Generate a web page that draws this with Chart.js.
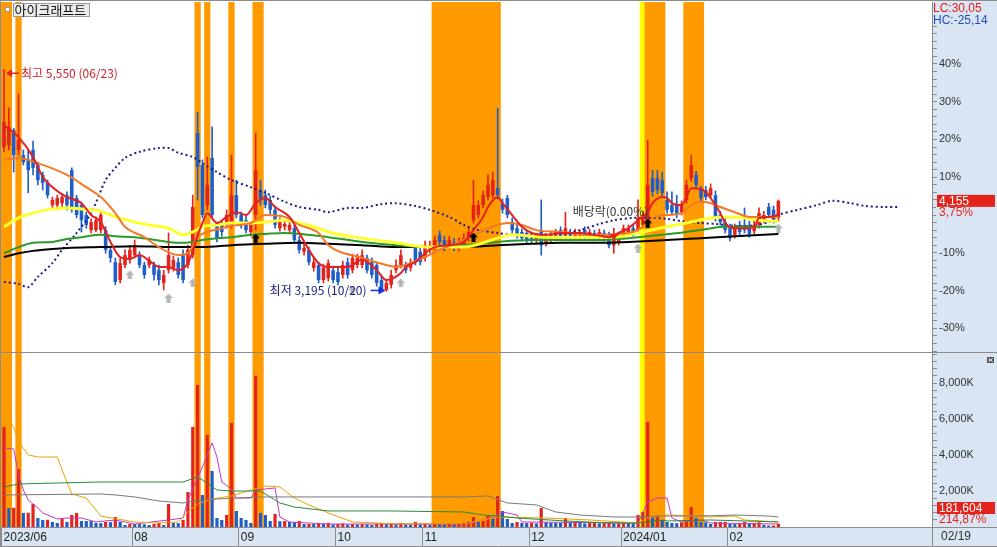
<!DOCTYPE html>
<html>
<head>
<meta charset="utf-8">
<script src="https://cdn.jsdelivr.net/npm/chart.js@4/dist/chart.umd.min.js"></script>
<style>
    html, body { margin: 0; padding: 0; background: #fff; }
    #wrap { position: relative; width: 997px; height: 547px; overflow: hidden; }
    canvas { position: absolute; left: 0; }
    #price { top: 0; }
    #vol { top: 352px; }
</style>
</head>
<body>
<div id="wrap">
    <canvas id="price" width="997" height="352"></canvas>
    <canvas id="vol" width="997" height="195"></canvas>
</div>
<script>
// ---- data (daily, 2023/06/23 .. 2024/02/19) ----
const opens = [
    4725, 4745, 4905, 4695, 4640, 4590, 4695, 4535, 4430, 4345,
    4110, 4110, 4130, 4215, 4480, 4185, 4110, 4005, 3845, 3845,
    3845, 3845, 3635, 3505, 3315, 3475, 3530, 3580, 3580, 3475,
    3475, 3475, 3420, 3285, 3420, 3445, 3505, 3580, 3475, 3580,
    4875, 4535, 4110, 4610, 3900, 3900, 3900, 3900, 4215, 4005,
    3950, 3825, 4005, 4270, 4215, 4165, 4060, 3865, 3880, 3845,
    3865, 3740, 3615, 3635, 3445, 3475, 3315, 3335, 3420, 3400,
    3370, 3505, 3420, 3475, 3475, 3550, 3505, 3475, 3315, 3210,
    3265, 3420, 3475, 3475, 3445, 3655, 3615, 3550, 3635, 3665,
    3795, 3740, 3675, 3720, 3655, 3685, 3760, 3950, 4005, 4110,
    4195, 4215, 4290, 4130, 4185, 3930, 3865, 3825, 3815, 3795,
    3740, 3845, 3710, 3740, 3760, 3845, 3780, 3825, 3780, 3780,
    3845, 3780, 3815, 3780, 3815, 3795, 3685, 3720, 3780, 3825,
    3865, 3845, 3900, 3950, 4395, 4395, 4375, 4165, 4110, 4110,
    4035, 4165, 4395, 4430, 4270, 4270, 4215, 4215, 4005, 3930,
    3865, 3795, 3900, 3900, 3900, 3835, 3900, 3950, 4090, 4060,
    3975
];
const highs = [
    5550, 5140, 4925, 5290, 4695, 4695, 4790, 4565, 4460, 4375,
    4195, 4215, 4215, 4250, 4505, 4215, 4145, 4035, 3965, 3985,
    4035, 3880, 3665, 3550, 3550, 3635, 3685, 3740, 3615, 3505,
    3560, 3505, 3475, 3420, 3815, 3570, 3550, 3635, 3685, 4215,
    5095, 4590, 4620, 4940, 3930, 3950, 4060, 4640, 4375, 4035,
    3995, 3930, 4875, 4375, 4270, 4205, 4100, 3975, 3950, 3940,
    3900, 3780, 3700, 3665, 3550, 3505, 3485, 3530, 3465, 3445,
    3515, 3550, 3590, 3590, 3635, 3580, 3550, 3505, 3370, 3325,
    3420, 3530, 3635, 3505, 3540, 3685, 3655, 3730, 3730, 3780,
    3835, 3780, 3780, 3760, 3760, 3805, 3865, 4375, 4155, 4260,
    4430, 4460, 5140, 4175, 4215, 3975, 3900, 3855, 3845, 3825,
    3805, 4165, 3805, 3825, 3855, 3880, 4035, 3855, 3855, 3845,
    3880, 3855, 3845, 3855, 3845, 3825, 3865, 3825, 3900, 3900,
    3900, 4165, 4035, 4800, 4480, 4480, 4460, 4250, 4250, 4215,
    4155, 4375, 4640, 4470, 4310, 4310, 4335, 4260, 4045, 3975,
    3910, 3910, 3940, 4080, 3940, 3940, 4080, 4045, 4130, 4100,
    4165
];
const lows = [
    4675, 4695, 4460, 4640, 4535, 4240, 4430, 4325, 4270, 4185,
    4080, 4060, 4090, 4060, 4035, 3975, 3825, 3865, 3815, 3825,
    3815, 3600, 3505, 3265, 3285, 3445, 3495, 3550, 3445, 3335,
    3445, 3315, 3265, 3210, 3390, 3410, 3335, 3285, 3445, 3550,
    4165, 3975, 4060, 3975, 3720, 3780, 3865, 3865, 3975, 3865,
    3815, 3780, 3845, 4110, 4080, 4015, 3865, 3835, 3845, 3815,
    3710, 3600, 3580, 3475, 3410, 3285, 3285, 3305, 3285, 3265,
    3335, 3335, 3390, 3445, 3445, 3390, 3335, 3250, 3195, 3195,
    3230, 3390, 3445, 3390, 3410, 3475, 3475, 3515, 3600, 3635,
    3685, 3625, 3645, 3625, 3625, 3655, 3730, 3920, 3975, 4080,
    4165, 4185, 4175, 4025, 3975, 3815, 3760, 3730, 3710, 3710,
    3710, 3580, 3675, 3710, 3730, 3750, 3750, 3730, 3750, 3750,
    3740, 3750, 3730, 3750, 3730, 3655, 3600, 3685, 3750, 3795,
    3780, 3815, 3865, 3920, 4205, 4230, 4195, 4025, 4005, 3975,
    4005, 4130, 4365, 4290, 4155, 4165, 4185, 3940, 3900, 3815,
    3730, 3760, 3795, 3815, 3770, 3805, 3865, 3920, 3975, 3920,
    3940
];
const closes = [
    4990, 4940, 4640, 4800, 4565, 4480, 4505, 4375, 4345, 4215,
    4165, 4185, 4195, 4110, 4060, 4005, 3950, 3900, 3930, 3950,
    4005, 3635, 3550, 3295, 3495, 3580, 3635, 3685, 3475, 3370,
    3530, 3370, 3315, 3370, 3580, 3530, 3370, 3315, 3635, 4090,
    4515, 4005, 4325, 4005, 3760, 3825, 4005, 4215, 4005, 3900,
    3845, 3900, 4480, 4165, 4110, 4060, 3900, 3930, 3910, 3900,
    3740, 3635, 3655, 3505, 3505, 3315, 3445, 3495, 3315, 3295,
    3475, 3370, 3550, 3550, 3580, 3420, 3370, 3285, 3210, 3285,
    3370, 3475, 3580, 3420, 3505, 3505, 3505, 3685, 3685, 3740,
    3720, 3655, 3740, 3655, 3720, 3760, 3825, 4110, 4110, 4215,
    4325, 4375, 4215, 4060, 4005, 3845, 3795, 3760, 3740, 3740,
    3770, 3685, 3770, 3795, 3825, 3780, 3865, 3760, 3825, 3815,
    3770, 3825, 3760, 3825, 3760, 3685, 3760, 3795, 3865, 3865,
    3815, 3975, 3975, 4325, 4250, 4270, 4240, 4060, 4035, 4005,
    4110, 4325, 4535, 4325, 4185, 4195, 4290, 3975, 3930, 3845,
    3760, 3865, 3825, 3845, 3805, 3900, 4025, 4005, 4005, 3950,
    4155
];
// volume in thousands of shares
const volumes = [
    5560, 1056, 1070, 3225, 780, 790, 1280, 500, 390, 400,
    280, 222, 445, 280, 667, 780, 334, 330, 325, 222,
    215, 278, 270, 556, 278, 111, 167, 160, 155, 150,
    111, 167, 222, 111, 1280, 222, 215, 390, 1946, 5560,
    7895, 1779, 5115, 3114, 500, 390, 667, 5780, 890, 500,
    390, 222, 8396, 780, 667, 334, 723, 320, 334, 278,
    270, 334, 167, 170, 165, 222, 167, 222, 150, 170,
    200, 130, 160, 140, 165, 150, 120, 180, 200, 150,
    170, 150, 222, 150, 130, 278, 150, 170, 130, 160,
    140, 130, 170, 150, 200, 250, 300, 556, 295, 334,
    612, 500, 1724, 890, 445, 222, 278, 230, 220, 240,
    200, 1056, 278, 240, 230, 220, 500, 250, 260, 230,
    200, 220, 225, 200, 210, 230, 200, 210, 230, 210,
    200, 667, 834, 5840, 600, 640, 390, 278, 222, 210,
    260, 280, 1112, 500, 278, 260, 167, 278, 285, 290,
    167, 160, 222, 278, 222, 230, 260, 120, 80, 84.5,
    181.604
];

// moving averages, read as [day index, price]
const ma5 = [[0,4960],[3,4830],[6,4620],[8,4410],[10,4300],[13,4195],[16,4130],[18,4005],[20,3930],[22,3720],[24,3560],[26,3540],[28,3580],[30,3520],[32,3455],[34,3455],[36,3420],[38,3495],[39,3620],[40,3790],[41,3920],[42,4025],[44,3920],[46,3985],[48,4035],[50,4005],[52,4130],[54,4185],[56,4090],[59,3985],[61,3815],[63,3635],[65,3495],[67,3455],[71,3455],[74,3530],[77,3420],[79,3315],[82,3390],[83,3455],[85,3505],[87,3600],[89,3665],[92,3685],[95,3720],[97,3845],[99,3985],[100,4090],[102,4195],[103,4130],[105,4005],[107,3880],[109,3815],[112,3795],[115,3815],[119,3815],[122,3795],[125,3770],[127,3815],[129,3865],[131,3950],[133,4035],[134,4130],[136,4195],[137,4185],[138,4130],[140,4110],[141,4195],[142,4290],[144,4280],[145,4250],[146,4185],[148,4025],[149,3920],[151,3865],[153,3865],[155,3880],[156,3975],[158,3985],[160,4005]];
const ma20 = [[0,4590],[3,4610],[7,4555],[13,4430],[17,4300],[20,4195],[23,4025],[25,3880],[29,3770],[32,3665],[36,3580],[38,3600],[40,3770],[42,3825],[45,3865],[47,3890],[51,3920],[54,4005],[58,3985],[61,3900],[65,3815],[67,3685],[74,3550],[79,3475],[81,3455],[84,3495],[87,3560],[90,3635],[95,3740],[98,3815],[102,3900],[104,3920],[107,3900],[110,3845],[115,3825],[122,3795],[129,3815],[132,3880],[134,3975],[137,4005],[140,4025],[142,4110],[144,4145],[146,4130],[148,4090],[151,4035],[154,3985],[156,3985],[160,3985]];
const ma60 = [[0,3880],[3,3975],[6,4025],[10,4070],[13,4080],[16,4070],[20,4045],[23,3985],[27,3930],[30,3900],[34,3865],[37,3795],[39,3825],[41,3880],[44,3900],[47,3920],[51,3920],[54,3930],[58,3950],[61,3920],[65,3865],[67,3825],[74,3760],[81,3710],[88,3665],[95,3665],[102,3760],[105,3795],[112,3770],[119,3770],[126,3770],[131,3815],[137,3880],[141,3920],[145,3965],[149,3985],[153,3975],[156,3950],[160,3940]];
const ma120 = [[0,3600],[3,3665],[6,3710],[10,3720],[13,3750],[16,3770],[20,3795],[23,3780],[27,3770],[30,3750],[34,3720],[37,3710],[41,3740],[44,3760],[47,3770],[51,3795],[54,3805],[58,3815],[67,3770],[74,3720],[81,3685],[88,3665],[95,3685],[102,3720],[109,3740],[115,3740],[123,3740],[129,3760],[136,3795],[141,3825],[145,3855],[149,3880],[160,3880]];
const ma240 = [[0,3560],[3,3600],[6,3625],[10,3645],[13,3655],[20,3665],[27,3675],[34,3665],[41,3665],[47,3685],[54,3700],[61,3710],[67,3700],[74,3685],[81,3665],[88,3665],[95,3665],[102,3685],[109,3700],[115,3710],[123,3710],[129,3720],[137,3740],[144,3760],[151,3780],[160,3805]];
const leadSpan = [[0,3295],[3,3275],[5,3240],[7,3350],[10,3495],[12,3635],[15,3815],[18,4025],[21,4375],[23,4505],[25,4610],[28,4675],[32,4715],[34,4715],[36,4665],[39,4620],[41,4555],[44,4460],[47,4375],[51,4300],[54,4240],[58,4145],[61,4090],[65,4060],[67,4035],[71,4080],[74,4080],[78,4120],[81,4130],[85,4100],[88,4060],[92,3985],[95,3900],[98,3845],[102,3815],[105,3795],[109,3795],[115,3805],[119,3845],[123,3910],[126,3950],[130,3975],[133,3975],[137,3965],[140,3940],[144,3920],[147,3910],[151,3890],[154,3890],[158,3930],[160,4005],[164,4060],[168,4110],[171,4155],[175,4130],[178,4100],[182,4090],[185,4090]];

// volume averages, [day index, thousands]
const vma1 = [[1,5950],[2,5560],[3,4725],[5,4005],[7,3890],[11,3890],[12,3170],[14,1835],[17,1610],[20,610],[27,280],[32,220],[36,280],[38,835],[40,1280],[43,1555],[47,1725],[51,2055],[54,2280],[57,2225],[60,1610],[63,1225],[67,780],[72,280],[82,165],[96,220],[102,555],[112,500],[121,390],[131,220],[133,500],[137,665],[144,610],[146,555],[151,610],[153,390],[160,280]];
const vma2 = [[0,4390],[2,4335],[3,2890],[4,2055],[5,1500],[7,1055],[8,780],[11,445],[13,500],[16,500],[19,280],[23,390],[27,165],[34,390],[37,500],[38,1500],[41,3335],[42,4005],[43,4670],[44,3890],[45,2500],[47,2110],[48,1610],[51,1610],[52,2055],[56,2170],[57,555],[59,280],[67,165],[96,165],[101,555],[103,835],[106,665],[107,280],[131,220],[133,1390],[135,1610],[137,1610],[138,500],[140,280],[144,390],[146,220],[160,165]];
const vma3 = [[0,2225],[3,2390],[11,2445],[20,2500],[27,2500],[37,2500],[40,2780],[41,2615],[44,2055],[47,2000],[53,2000],[57,1335],[60,1110],[67,890],[80,890],[95,835],[99,665],[102,610],[106,500],[116,335],[125,220],[131,220],[136,390],[137,335],[146,390],[160,280]];
const vma4 = [[0,1780],[20,1835],[23,1780],[27,1670],[32,1445],[37,1335],[41,1500],[44,1555],[53,1670],[67,1670],[95,1670],[100,1725],[104,1335],[110,1225],[114,835],[119,665],[126,555],[131,555],[136,610],[144,610],[151,665],[158,610],[160,555]];

// highlighted day ranges
const bands = [[0,1],[3,3],[40,40],[42,42],[47,47],[52,53],[89,102],[133,136],[141,144]];
const yellowBands = [[132,132]];

// signals [day index, price]
const grayUp = [[26,3370],[34,3125],[39,3285],[72,3210],[82,3285],[131,3655],[160,3865]];
const blackUp = [[52,3760],[97,3770],[133,3920]];
const redDown = [[126,3770]];

const monthStarts = [0, 27, 49, 69, 87, 109, 128, 150];
const monthLabels = ['2023/06', '08', '09', '10', '11', '12', '2024/01', '02'];
const pctLabels = [-30, -20, -10, 10, 20, 30, 40];
const volLabels = [2000, 4000, 6000, 8000];

const stockName = '아이크래프트';
const basePrice = 4005;
const highNote = { i: 0, price: 5550, text: '최고 5,550 (06/23)' };
const lowNote = { i: 78, price: 3195, text: '최저 3,195 (10/20)' };
const divNote = { i: 125.3, price: 4040, text: '배당락(0.00%)' };
const lcValue = '30,05', hcValue = '-25,14';
const volChange = '214,87';
const lastDate = '02/19';

// ---- view ----
const X_MIN = -0.62, X_MAX = 191.74;
const priceMin = 2553, priceMax = 6263;
const volMax = 9667;

const RED = '#e5231d', BLUE = '#1f5ec8', BAND = '#ff9a00', BAND_Y = '#ffff00';
const AXIS_BG = '#d9e5f2', EDGE = '#8c8c8c';
const NUM_FONT = "'Liberation Sans'";
const KR_FONT = "'Noto Sans CJK KR'";

Chart.defaults.font.family = NUM_FONT;

const pts = (arr) => arr.map(([x, y]) => ({ x, y }));
const days = opens.map((_, i) => i);
const bandData = (list, lo, hi) => {
    const out = [];
    list.forEach(([s, e]) => { for (let i = s; i <= e; i++) out.push({ x: i, y: [lo, hi] }); });
    return out;
};
const candleColor = (i) => closes[i] >= opens[i] ? RED : BLUE;
const volColor = (i) => (i === 0 || volumes[i] >= volumes[i - 1]) ? RED : BLUE;

const arrowImg = (color, dir) => {
    const c = document.createElement('canvas');
    c.width = 9; c.height = 9;
    const g = c.getContext('2d');
    g.fillStyle = color;
    g.beginPath();
    if (dir === 'up') {
        g.moveTo(4.5, 0); g.lineTo(9, 4.5); g.lineTo(6.5, 4.5); g.lineTo(6.5, 9);
        g.lineTo(2.5, 9); g.lineTo(2.5, 4.5); g.lineTo(0, 4.5);
    } else {
        g.moveTo(0, 1); g.lineTo(9, 1); g.lineTo(4.5, 8);
    }
    g.closePath();
    g.fill();
    return c;
};

// slight overlap so neighbouring band slots merge without seams
const bandSet = (list, color, lo, hi) => ({
    type: 'bar', data: bandData(list, lo, hi), backgroundColor: color,
    barPercentage: 1.3, categoryPercentage: 1, grouped: false, borderWidth: 0, order: 100
});
const maLine = (arr, color, width, order) => ({
    type: 'line', data: pts(arr), borderColor: color, borderWidth: width,
    pointRadius: 0, cubicInterpolationMode: 'monotone', order
});
const volLine = (arr, color) => ({
    type: 'line', data: pts(arr), borderColor: color, borderWidth: 1,
    pointRadius: 0, tension: 0, order: 10
});
const marks = (arr, img) => ({
    type: 'line', data: pts(arr), showLine: false, pointStyle: img,
    pointRadius: 5, pointHoverRadius: 0, pointBorderWidth: 0, order: 1
});

const panelBg = {
    id: 'panelBg',
    beforeDraw(chart, args, opts) {
        const { ctx, chartArea: a, width, height } = chart;
        ctx.save();
        ctx.fillStyle = '#fff';
        ctx.fillRect(0, 0, width, height);
        ctx.fillStyle = AXIS_BG;
        ctx.fillRect(a.right, 0, width - a.right, height);
        if (opts.strip) ctx.fillRect(0, a.bottom, width, height - a.bottom);
        ctx.restore();
    }
};

const hline = (ctx, x1, x2, y) => { ctx.beginPath(); ctx.moveTo(x1, y); ctx.lineTo(x2, y); ctx.stroke(); };
const vline = (ctx, x, y1, y2) => { ctx.beginPath(); ctx.moveTo(x, y1); ctx.lineTo(x, y2); ctx.stroke(); };

const priceDecor = {
    id: 'priceDecor',
    afterDraw(chart) {
        const { ctx, chartArea: a, width, height, scales: { x, y } } = chart;
        ctx.save();
        ctx.strokeStyle = EDGE;
        ctx.lineWidth = 1;
        hline(ctx, 0, width, 0.5);
        vline(ctx, 0.5, 0, height);

        // name box
        ctx.fillStyle = '#fff';
        ctx.fillRect(5, 7, 5, 5);
        ctx.strokeStyle = '#9a9a9a';
        ctx.strokeRect(5.5, 7.5, 4, 4);
        ctx.fillStyle = '#ececec';
        ctx.fillRect(13, 3, 77, 14);
        ctx.strokeRect(13.5, 3.5, 76, 13);
        ctx.fillStyle = '#111';
        ctx.font = `13px ${KR_FONT}`;
        ctx.textBaseline = 'middle';
        ctx.textAlign = 'left';
        ctx.fillText(stockName, 14.5, 10.5);

        // high note with left arrow
        ctx.font = `12px ${KR_FONT}`;
        let px = x.getPixelForValue(highNote.i), py = y.getPixelForValue(highNote.price) + 4;
        ctx.fillStyle = RED; ctx.strokeStyle = RED; ctx.lineWidth = 1.5;
        hline(ctx, px + 6, px + 15, py);
        ctx.beginPath(); ctx.moveTo(px + 2, py); ctx.lineTo(px + 8, py - 4); ctx.lineTo(px + 8, py + 4); ctx.closePath(); ctx.fill();
        ctx.fillStyle = '#d0202a';
        ctx.fillText(highNote.text, px + 17, py);

        // low note with right arrow
        px = x.getPixelForValue(lowNote.i); py = y.getPixelForValue(lowNote.price) - 1;
        ctx.fillStyle = '#1c1c80';
        ctx.textAlign = 'right';
        ctx.fillText(lowNote.text, px - 15, py);
        ctx.strokeStyle = '#1030e0'; ctx.fillStyle = '#1030e0';
        hline(ctx, px - 11, px - 2, py);
        ctx.beginPath(); ctx.moveTo(px + 4, py); ctx.lineTo(px - 3, py - 4); ctx.lineTo(px - 3, py + 4); ctx.closePath(); ctx.fill();

        // ex-dividend note
        ctx.textAlign = 'center';
        ctx.fillStyle = '#333';
        ctx.fillText(divNote.text, x.getPixelForValue(divNote.i), y.getPixelForValue(divNote.price));

        // right axis texts
        ctx.textAlign = 'left';
        ctx.font = `12px ${NUM_FONT}`;
        ctx.fillStyle = AXIS_BG;
        ctx.fillRect(a.right + 1, 1, width - a.right - 1, 25);
        ctx.fillStyle = '#e0201c';
        ctx.fillText('LC:' + lcValue, a.right + 1, 8.5);
        ctx.fillStyle = '#2050c0';
        ctx.fillText('HC:' + hcValue, a.right + 1, 20.5);

        const last = closes[closes.length - 1];
        const ty = y.getPixelForValue(last);
        ctx.fillStyle = AXIS_BG;
        ctx.fillRect(a.right + 4, ty + 6, width - a.right - 4, 13);
        ctx.fillStyle = RED;
        ctx.fillRect(a.right + 5, ty - 6, width - a.right - 7, 12);
        ctx.fillStyle = '#fff';
        ctx.fillText(last.toLocaleString('en-US'), a.right + 7, ty + 0.5);
        ctx.fillStyle = RED;
        const pct = ((last / basePrice - 1) * 100).toFixed(2).replace('.', ',');
        ctx.fillText(pct + '%', a.right + 7, ty + 12);
        ctx.restore();
    }
};

const volDecor = {
    id: 'volDecor',
    afterDraw(chart) {
        const { ctx, chartArea: a, width, height, scales: { y } } = chart;
        ctx.save();
        ctx.strokeStyle = EDGE;
        ctx.lineWidth = 1;
        hline(ctx, 0, width, 0.5);
        vline(ctx, 0.5, 0, height);
        hline(ctx, 0, width, a.bottom + 0.5);
        vline(ctx, a.right + 0.5, a.bottom, height);
        hline(ctx, 0, width, height - 0.5);

        // close icon
        ctx.fillStyle = '#555';
        ctx.fillRect(width - 10, 5, 7, 6);
        ctx.strokeStyle = '#fff';
        ctx.beginPath(); ctx.moveTo(width - 8.5, 6.5); ctx.lineTo(width - 4.5, 9.5); ctx.moveTo(width - 4.5, 6.5); ctx.lineTo(width - 8.5, 9.5); ctx.stroke();

        const lastVol = volumes[volumes.length - 1];
        const ty = Math.min(y.getPixelForValue(lastVol), a.bottom - 19);
        ctx.font = `12px ${NUM_FONT}`;
        ctx.textBaseline = 'middle';
        ctx.textAlign = 'left';
        ctx.fillStyle = RED;
        ctx.fillRect(a.right + 5, ty - 6, width - a.right - 7, 12);
        ctx.fillStyle = '#fff';
        ctx.fillText(Math.round(lastVol * 1000).toLocaleString('en-US'), a.right + 7, ty + 0.5);
        ctx.fillStyle = RED;
        ctx.fillText(volChange + '%', a.right + 7, ty + 12);

        ctx.fillStyle = '#333';
        ctx.fillText(lastDate, a.right + 9, a.bottom + 10);
        ctx.restore();
    }
};

const common = {
    responsive: false,
    animation: false,
    devicePixelRatio: 1,
    events: []
};

const pctTicks = [];
for (let p = -36; p <= 56; p += 2) pctTicks.push(p);

new Chart(document.getElementById('price'), {
    type: 'bar',
    data: {
        datasets: [
            bandSet(bands, BAND, priceMin, priceMax),
            bandSet(yellowBands, BAND_Y, priceMin, priceMax),
            {
                type: 'bar', data: days.map(i => ({ x: i, y: [lows[i], highs[i]] })),
                backgroundColor: (c) => candleColor(c.dataIndex), barThickness: 1,
                grouped: false, borderWidth: 0, order: 50
            },
            {
                type: 'bar', data: days.map(i => ({ x: i, y: [opens[i], closes[i]] })),
                backgroundColor: (c) => candleColor(c.dataIndex), barPercentage: 0.74,
                categoryPercentage: 1, minBarLength: 1, grouped: false, borderWidth: 0, order: 49
            },
            {
                type: 'line', data: pts(leadSpan), borderColor: '#1c1c8c', borderWidth: 2,
                borderDash: [2, 2.84], pointRadius: 0, tension: 0.3, order: 15
            },
            maLine(ma240, '#000000', 2, 14),
            maLine(ma120, '#2a9a2a', 2, 13),
            maLine(ma60, '#ffff30', 3, 12),
            maLine(ma20, '#f07a28', 2, 11),
            maLine(ma5, '#e42020', 2, 10),
            marks(grayUp, arrowImg('#b4b4b4', 'up')),
            marks(blackUp, arrowImg('#000', 'up')),
            marks(redDown, arrowImg(RED, 'down'))
        ]
    },
    options: {
        ...common,
        layout: { autoPadding: false, padding: { left: 1, top: 2, right: 0, bottom: 0 } },
        plugins: { legend: { display: false }, tooltip: { enabled: false } },
        scales: {
            x: { type: 'linear', min: X_MIN, max: X_MAX, display: false, offset: false, grid: { offset: false } },
            y: {
                position: 'right', min: priceMin, max: priceMax,
                afterBuildTicks: (s) => { s.ticks = pctTicks.map(p => ({ value: basePrice * (1 + p / 100) })); },
                afterFit: (s) => { s.width = 65; s.paddingTop = 0; s.paddingBottom = 0; },
                ticks: {
                    autoSkip: false, padding: 2, color: '#333', font: { size: 11 },
                    callback: (v) => {
                        const p = Math.round((v / basePrice - 1) * 100);
                        return pctLabels.includes(p) ? p + '%' : '';
                    }
                },
                grid: { drawOnChartArea: false, tickLength: 5, color: EDGE },
                border: { color: EDGE }
            }
        }
    },
    plugins: [panelBg, priceDecor]
});

new Chart(document.getElementById('vol'), {
    type: 'bar',
    data: {
        datasets: [
            bandSet(bands, BAND, 0, volMax),
            bandSet(yellowBands, BAND_Y, 0, volMax),
            {
                type: 'bar', data: days.map(i => ({ x: i, y: volumes[i] })),
                backgroundColor: (c) => volColor(c.dataIndex), barPercentage: 0.66,
                categoryPercentage: 1, grouped: false, borderWidth: 0, order: 50
            },
            volLine(vma4, '#7a7a7a'),
            volLine(vma3, '#2a8a3a'),
            volLine(vma1, '#e8a400'),
            volLine(vma2, '#c23ac2')
        ]
    },
    options: {
        ...common,
        layout: { autoPadding: false, padding: { left: 1, top: 1, right: 0, bottom: 0 } },
        plugins: { legend: { display: false }, tooltip: { enabled: false }, panelBg: { strip: true } },
        scales: {
            x: {
                type: 'linear', min: X_MIN, max: X_MAX, offset: false, position: 'bottom',
                afterBuildTicks: (s) => { s.ticks = monthStarts.map(i => ({ value: i - 0.5 })); },
                afterFit: (s) => { s.height = 20; s.paddingLeft = 0; s.paddingRight = 0; },
                ticks: {
                    autoSkip: false, maxRotation: 0, minRotation: 0, align: 'start',
                    labelOffset: 2, padding: -17, color: '#222', font: { size: 12 },
                    callback: (v, i) => monthLabels[i]
                },
                grid: { drawOnChartArea: false, tickLength: 20, color: EDGE, offset: false },
                border: { color: EDGE }
            },
            y: {
                position: 'right', min: 0, max: volMax,
                afterBuildTicks: (s) => {
                    const t = [];
                    for (let v = 400; v < volMax; v += 400) t.push({ value: v });
                    s.ticks = t;
                },
                afterFit: (s) => { s.width = 65; s.paddingTop = 0; s.paddingBottom = 0; },
                ticks: {
                    autoSkip: false, padding: 2, color: '#333', font: { size: 11 },
                    callback: (v) => volLabels.includes(v) ? v.toLocaleString('en-US') + 'K' : ''
                },
                grid: { drawOnChartArea: false, tickLength: 5, color: EDGE },
                border: { color: EDGE }
            }
        }
    },
    plugins: [panelBg, volDecor]
});
</script>
</body>
</html>
